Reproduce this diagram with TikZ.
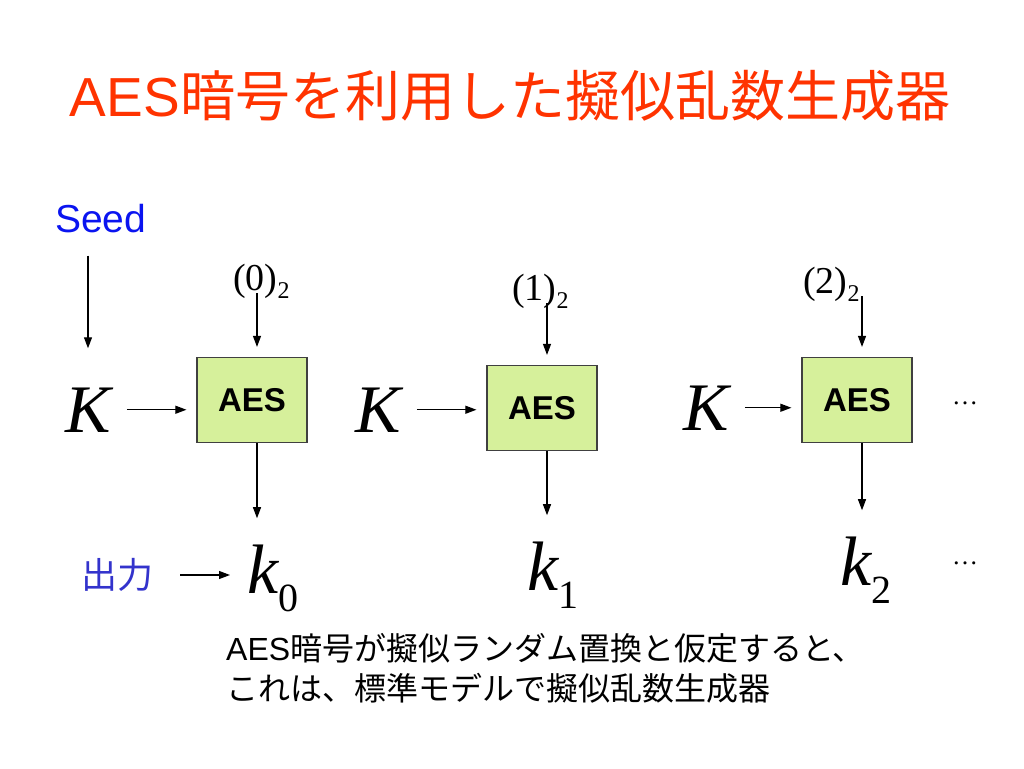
\documentclass[tikz,border=0pt]{standalone}
\usepackage{fontspec}
\setmainfont{Liberation Serif}
\newfontfamily\jpfont{Noto Sans CJK JP}
\newfontfamily\arialfont{Liberation Sans}
\usetikzlibrary{arrows.meta}

\definecolor{titlered}{RGB}{255,51,0}
\definecolor{seedblue}{RGB}{10,20,240}
\definecolor{outblue}{RGB}{51,51,204}
\definecolor{aesgreen}{RGB}{214,240,155}

% key k_i with lowered index
\newcommand{\keyidx}[1]{{\itshape k}\raisebox{-18pt}{\fontsize{40}{40}\selectfont #1}}
% counter (i)_2
\newcommand{\ctrlab}[1]{(#1)\raisebox{-8pt}{\fontsize{24}{24}\selectfont 2}}

\begin{document}
\begin{tikzpicture}[x=1pt,y=-1pt,
  arr/.style={-{Triangle[length=11pt,width=8pt]}, line width=1.1pt},
  aesbox/.style={draw=black!75, line width=1.2pt, fill=aesgreen,
    minimum width=110pt, minimum height=85pt,
    font=\arialfont\bfseries\fontsize{33}{33}\selectfont},
  bigK/.style={font=\fontsize{68}{68}\selectfont\itshape, inner sep=0pt, anchor=base},
  keyout/.style={font=\fontsize{70}{70}\selectfont, inner sep=0pt, anchor=base west},
  ctr/.style={font=\fontsize{38}{38}\selectfont, inner sep=0pt, anchor=base west},
  more/.style={font=\fontsize{26}{26}\selectfont, inner sep=0pt}]
  \useasboundingbox (0,0) rectangle (1024,768);

  % title
  \node[font=\fontsize{55}{55}\selectfont, text=titlered, anchor=base, inner sep=0pt] (title)
    at (510,116) {{\arialfont AES}{\jpfont 暗号を利用した擬似乱数生成器}};

  % seed and output labels
  \node[font=\arialfont\fontsize{39}{39}\selectfont, text=seedblue, anchor=base west,
    inner sep=0pt] (seed) at (55,232) {Seed};
  \node[font=\jpfont\fontsize{36}{36}\selectfont, text=outblue, inner sep=0pt] (out)
    at (117,575) {出力};

  % AES blocks
  \node[aesbox] (aes0) at (252,400) {AES};
  \node[aesbox] (aes1) at (542,408) {AES};
  \node[aesbox] (aes2) at (857,400) {AES};

  % key inputs
  \node[bigK] (K0) at (88,432) {K};
  \node[bigK] (K1) at (378,432) {K};
  \node[bigK] (K2) at (706,430) {K};

  % counters
  \node[ctr] (lab0) at (233,290) {\ctrlab{0}};
  \node[ctr] (lab1) at (512,300) {\ctrlab{1}};
  \node[ctr] (lab2) at (803,293) {\ctrlab{2}};

  % outputs
  \node[keyout] (k0) at (247,593) {\keyidx{0}};
  \node[keyout] (k1) at (527,590) {\keyidx{1}};
  \node[keyout] (k2) at (840,585) {\keyidx{2}};

  % continuation dots
  \node[more] (more1) at (965,403) {\dots};
  \node[more] (more2) at (965,563) {\dots};

  % connectors
  \draw[arr, shorten <=23pt, shorten >=39pt] (seed.south -| K0.north) -- (K0.north);
  \draw[arr, shorten <=27pt, shorten >=17pt] (out.east) -- (out.east -| k0.west);
  \foreach \i in {0,1,2}{
    \draw[arr, shorten <=16pt, shorten >=10pt] (K\i.east) -- (K\i.east -| aes\i.west);
    \draw[arr, shorten <=3pt, shorten >=10pt]
      ([xshift=5pt]aes\i.north |- lab\i.base) -- ([xshift=5pt]aes\i.north);
    \draw[arr, shorten >=26pt]
      ([xshift=5pt]aes\i.south) -- ([xshift=5pt]aes\i.south |- k\i.north);
  }

  % remark
  \node[font=\fontsize{32}{40}\selectfont, align=left, anchor=base west, inner sep=0pt] (note)
    at (226,700) {{\arialfont AES}{\jpfont 暗号が擬似ランダム置換と仮定すると、}\\
    {\jpfont これは、標準モデルで擬似乱数生成器}};
\end{tikzpicture}
\end{document}
